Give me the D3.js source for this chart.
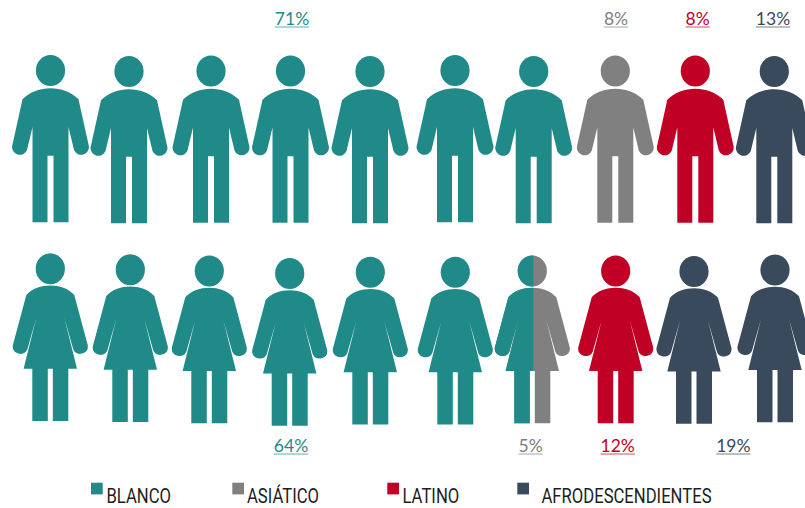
<!DOCTYPE html>
<html>
<head>
<meta charset="utf-8">
<script src="https://cdnjs.cloudflare.com/ajax/libs/d3/7.8.5/d3.min.js"></script>
<style>
  html, body { margin: 0; padding: 0; background: #fff; }
  svg { display: block; }
  .pct { font-family: Lato, sans-serif; font-size: 17.5px; font-weight: 400; text-anchor: middle; }
  .legend-label { font-family: Roboto, sans-serif; font-size: 19.6px; fill: #1e1e1e; }
</style>
</head>
<body>
<div id="chart"></div>
<script>
const width = 805
const height = 508

const groups = ['BLANCO', 'ASIÁTICO', 'LATINO', 'AFRODESCENDIENTES']
const groupColors = ['#1f8a88', '#808080', '#c10026', '#3a4a5d']

// one entry per pictogram, left to right
const menGroups = ['BLANCO', 'BLANCO', 'BLANCO', 'BLANCO', 'BLANCO', 'BLANCO', 'BLANCO', 'ASIÁTICO', 'LATINO', 'AFRODESCENDIENTES']
const womenGroups = ['BLANCO', 'BLANCO', 'BLANCO', 'BLANCO', 'BLANCO', 'BLANCO', 'BLANCO|ASIÁTICO', 'LATINO', 'AFRODESCENDIENTES', 'AFRODESCENDIENTES']

const menPct = ['71%', '8%', '8%', '13%']
const womenPct = ['64%', '5%', '12%', '19%']

const columns = d3.range(10)

// the figures were placed by hand in the original, so the scales carry measured stops
const xMen = d3.scaleOrdinal().domain(columns).range([50.5, 129, 211, 290.5, 370, 455, 533.7, 615.3, 695.3, 774.3])
const xWomen = d3.scaleOrdinal().domain(columns).range([50.3, 130.3, 209.3, 289.7, 370.3, 455.3, 532.3, 615.7, 694, 775])
const topMen = d3.scaleOrdinal().domain(columns).range([55, 56, 55.5, 55.5, 56, 55, 56, 55.5, 55.5, 56])
const topWomen = d3.scaleOrdinal().domain(columns).range([253.3, 254.3, 255.5, 258, 256.7, 256.7, 255.5, 255.5, 256, 254.5])

const xMenPct = d3.scaleOrdinal().domain(d3.range(4)).range([292, 616, 697.7, 773])
const xWomenPct = d3.scaleOrdinal().domain(d3.range(4)).range([291, 530.7, 617.7, 733.3])

const color = d3.scaleOrdinal().domain(groups).range(groupColors)
const legendX = d3.scaleOrdinal().domain(groups).range([91, 232.3, 387.3, 517.3])
const legendTextX = d3.scaleOrdinal().domain(groups).range([106.5, 247, 402.5, 541.5])

const manBody = 'M0,33.3 C10,33.3 21,37 28,44.3 L38.5,91.7 A7.8,7.8 0 0 1 23.5,95 L18,72 L18,167.3 L3,167.3 L3,100.7 L-3,100.7 L-3,167.3 L-18,167.3 L-18,72 L-23.5,95 A7.8,7.8 0 0 1 -38.5,91.7 L-28,44.3 C-21,37 -10,33.3 0,33.3 Z'
const womanBody = 'M0,32.2 C9,32.2 18,35 24,41.8 L37.6,92.5 A7.7,7.7 0 0 1 23,96.2 L14,64.5 L26.7,115.5 L18,115.5 L18,167.8 L2.5,167.8 L2.5,115.5 L-2.5,115.5 L-2.5,167.8 L-18,167.8 L-18,115.5 L-26.7,115.5 L-14,64.5 L-23,96.2 A7.7,7.7 0 0 1 -37.6,92.5 L-24,41.8 C-18,35 -9,32.2 0,32.2 Z'

const svg = d3.select('#chart')
    .append('svg')
    .attr('width', width)
    .attr('height', height)
    .attr('viewBox', `0 0 ${width} ${height}`)

svg.append('defs')
    .append('clipPath')
    .attr('id', 'left-half')
    .append('rect')
    .attr('x', -60)
    .attr('y', -5)
    .attr('width', 61)
    .attr('height', 185)

function drawFigure (sel, bodyPath, fill) {
    sel.append('ellipse')
        .attr('cx', 0)
        .attr('cy', 15.5)
        .attr('rx', 14.6)
        .attr('ry', 15.5)
        .attr('fill', fill)
    sel.append('path')
        .attr('d', bodyPath)
        .attr('fill', fill)
}

function drawRow (rowGroups, bodyPath, x, top) {
    svg.append('g')
        .selectAll('g')
        .data(rowGroups)
        .enter()
        .append('g')
        .attr('transform', (d, i) => `translate(${x(i)},${top(i)})`)
        .each(function (d) {
            const [first, second] = d.split('|')
            const g = d3.select(this)
            if (second) {
                drawFigure(g, bodyPath, color(second))
                drawFigure(g.append('g').attr('clip-path', 'url(#left-half)'), bodyPath, color(first))
            } else {
                drawFigure(g, bodyPath, color(first))
            }
        })
}

drawRow(menGroups, manBody, xMen, topMen)
drawRow(womenGroups, womanBody, xWomen, topWomen)

function drawLabels (labels, x, baseline) {
    const g = svg.append('g')
        .selectAll('g')
        .data(labels)
        .enter()
        .append('g')
        .attr('transform', (d, i) => `translate(${x(i)},${baseline})`)
    g.append('text')
        .attr('class', 'pct')
        .attr('fill', (d, i) => groupColors[i])
        .text(d => d)
    g.append('line')
        .attr('x1', function () { return -this.parentNode.querySelector('text').getComputedTextLength() / 2 })
        .attr('x2', function () { return this.parentNode.querySelector('text').getComputedTextLength() / 2 })
        .attr('y1', 2)
        .attr('y2', 2)
        .attr('stroke', (d, i) => groupColors[i])
        .attr('stroke-opacity', 0.7)
}

drawLabels(menPct, xMenPct, 25)
drawLabels(womenPct, xWomenPct, 452)

const legend = svg.append('g')
    .selectAll('g')
    .data(groups)
    .enter()
    .append('g')

legend.append('rect')
    .attr('x', d => legendX(d))
    .attr('y', 482.7)
    .attr('width', 11.7)
    .attr('height', 11.7)
    .attr('fill', d => color(d))

// no condensed face installed, so squeeze the regular one
legend.append('text')
    .attr('class', 'legend-label')
    .attr('transform', d => `translate(${legendTextX(d)},503) scale(0.85,1)`)
    .text(d => d)
</script>
</body>
</html>
